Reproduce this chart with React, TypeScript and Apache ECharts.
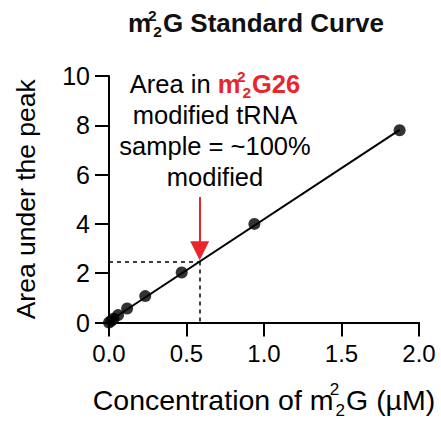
import React, { useEffect, useRef } from "react";
import * as echarts from "echarts";

// ---- data ----
const concentrations = [0, 0.0146, 0.0293, 0.0586, 0.117, 0.234, 0.469, 0.938, 1.875];
const peakAreas = [0, 0.07, 0.15, 0.3, 0.57, 1.07, 2.03, 4.0, 7.8];
const fitSlope = 4.14;
const fitIntercept = 0.05;
const fitRange = [0, 1.875];
const sampleConc = 0.585;
const sampleArea = 2.47;
const arrowTop = 5.09;
const arrowTip = 2.53;
const xTicks = [0, 0.5, 1.0, 1.5, 2.0];
const yTicks = [0, 2, 4, 6, 8, 10];
const noteLines = ["modified tRNA", "sample = ~100%", "modified"];

const FONT = "'Liberation Sans', Arial, Helvetica, sans-serif";
const RED = "#e8262b";
const ARROW_HEAD = 19;

export default function App() {
  const ref = useRef<HTMLDivElement>(null);
  useEffect(() => {
    if (!ref.current) return;
    document.body.style.margin = "0";
    const chart = echarts.init(ref.current, null, { renderer: "svg" });
    const points = concentrations.map((c, i) => [c, peakAreas[i]]);
    const fitLine = fitRange.map((x) => [x, fitSlope * x + fitIntercept]);
    // the triangle is centred on the line end: shift the end by half its height (in data units)
    const pxPerUnitY = (428 - 76 - 105.5) / (yTicks[yTicks.length - 1] - yTicks[0]);
    const arrowEnd = arrowTip + ARROW_HEAD / 2 / pxPerUnitY;

    const sup = (size: number, color = "#000", weight: any = "normal") => ({
      fontSize: size,
      lineHeight: size,
      verticalAlign: "top",
      fontFamily: FONT,
      color,
      fill: color,
      fontWeight: weight,
      width: 0.1,
      padding: [0, 0, 0, 1],
    });
    const sub = (size: number, color = "#000", weight: any = "normal") => ({
      fontSize: size,
      lineHeight: size,
      verticalAlign: "bottom",
      fontFamily: FONT,
      color,
      fill: color,
      fontWeight: weight,
      padding: [0, 1, 0, 1],
    });

    chart.setOption({
      animation: false,
      backgroundColor: "#fff",
      grid: { left: 109, right: 22, top: 76, bottom: 105.5, containLabel: false },
      xAxis: {
        type: "value",
        min: xTicks[0],
        max: xTicks[xTicks.length - 1],
        interval: 0.5,
        name: "Concentration of m{sup|2}{sub|2}G (µM)",
        nameLocation: "middle",
        nameGap: 58,
        nameTextStyle: {
          fontSize: 28.5,
          lineHeight: 38,
          fontFamily: FONT,
          color: "#000",
          rich: {
            sup: sup(17),
            sub: sub(17),
          },
        },
        axisLine: { show: true, lineStyle: { color: "#000", width: 2 } },
        axisTick: { show: true, length: 14, inside: false, lineStyle: { color: "#000", width: 2 } },
        axisLabel: {
          margin: 19,
          fontSize: 24,
          fontFamily: FONT,
          color: "#000",
          formatter: (v: number) => v.toFixed(1),
        },
        splitLine: { show: false },
      },
      yAxis: {
        type: "value",
        min: yTicks[0],
        max: yTicks[yTicks.length - 1],
        interval: 2,
        name: "Area under the peak",
        nameLocation: "middle",
        nameGap: 70,
        nameTextStyle: { fontSize: 26.5, fontFamily: FONT, color: "#000" },
        axisLine: { show: true, lineStyle: { color: "#000", width: 2 } },
        axisTick: { show: true, length: 14, inside: false, lineStyle: { color: "#000", width: 2 } },
        axisLabel: { margin: 19, fontSize: 25, fontFamily: FONT, color: "#000" },
        splitLine: { show: false },
      },
      graphic: [
        {
          type: "text",
          x: 256,
          y: 23,
          style: {
            text: "m{sup|2}{sub|2}G Standard Curve",
            fontSize: 26,
            fontWeight: "bold",
            fontFamily: FONT,
            lineHeight: 32,
            fill: "#111",
            align: "center",
            verticalAlign: "middle",
            rich: {
              sup: sup(15.5, "#111", "bold"),
              sub: sub(15.5, "#111", "bold"),
            } as any,
          },
        },
        {
          type: "text",
          x: 215,
          y: 84,
          style: {
            text: "Area in {r|m}{rsup|2}{rsub|2}{r|G26}",
            fontSize: 25.5,
            fontFamily: FONT,
            lineHeight: 32,
            fill: "#000",
            align: "center",
            verticalAlign: "middle",
            rich: {
              r: { fontSize: 25.5, lineHeight: 32, fontFamily: FONT, fill: RED, color: RED, fontWeight: "bold" },
              rsup: sup(15.5, RED, "bold"),
              rsub: sub(15.5, RED, "bold"),
            } as any,
          },
        },
        ...noteLines.map((t, i) => ({
          type: "text",
          x: 215,
          y: 115 + i * 31,
          style: {
            text: t,
            fontSize: 25.5,
            fontFamily: FONT,
            fill: "#000",
            align: "center",
            verticalAlign: "middle",
          },
        })),
      ],
      series: [
        {
          type: "line",
          data: fitLine,
          showSymbol: false,
          symbol: "none",
          lineStyle: { color: "#000", width: 2 },
          silent: true,
          z: 2,
          markLine: {
            silent: true,
            symbol: ["none", "none"],
            label: { show: false },
            lineStyle: { color: "#000", width: 1.5, type: [4, 4] },
            data: [
              [{ coord: [0, sampleArea] }, { coord: [sampleConc, sampleArea] }],
              [{ coord: [sampleConc, sampleArea] }, { coord: [sampleConc, 0] }],
            ],
          },
        },
        {
          type: "scatter",
          data: points,
          symbol: "circle",
          symbolSize: 12,
          itemStyle: { color: "#000" },
          silent: true,
          z: 3,
          markLine: {
            silent: true,
            symbol: ["none", "triangle"],
            symbolSize: ARROW_HEAD,
            label: { show: false },
            lineStyle: { color: RED, width: 2, type: "solid" },
            itemStyle: { color: RED },
            data: [[{ coord: [sampleConc, arrowTop] }, { coord: [sampleConc, arrowEnd] }]],
          },
        },
      ],
    });
    return () => chart.dispose();
  }, []);
  return <div ref={ref} style={{ width: 441, height: 428 }} />;
}
